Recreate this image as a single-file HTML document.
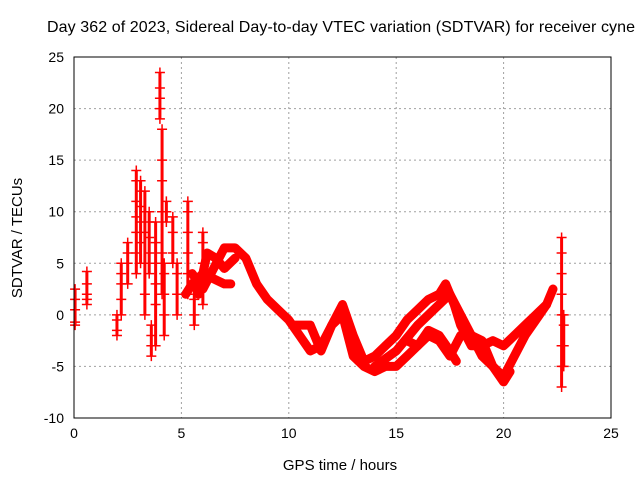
<!DOCTYPE html>
<html><head><meta charset="utf-8"><style>
body{margin:0;background:#fff}
svg{display:block;font-family:"Liberation Sans",sans-serif}
</style></head><body>
<svg id="c" width="640" height="480">
<text x="47" y="32" font-size="16" textLength="588">Day 362 of 2023, Sidereal Day-to-day VTEC variation (SDTVAR) for receiver cyne</text>
<text x="340" y="470" font-size="15" text-anchor="middle">GPS time / hours</text>
<text transform="translate(22,238) rotate(-90)" font-size="15" text-anchor="middle">SDTVAR / TECUs</text>
<g id="grid"></g><g id="marks"></g><g id="axes"></g>
</svg>
<script>
const xTicks=[0,5,10,15,20,25];
const yTicks=[-10,-5,0,5,10,15,20,25];
const trackA=[[5.5,4],[6,2.5],[6.5,4.5],[7,6.5],[7.5,6.5],[8,5.5],[8.5,3],[9,1.5],[9.5,0.5],[10,-0.5],[10.5,-2],[11,-3.5],[11.5,-3],[12,-1],[12.5,1],[13,-2],[13.5,-4.5],[14,-4],[14.5,-3],[15,-2],[15.5,-0.5],[16,0.5],[16.5,1.5],[17,2],[17.3,3],[17.7,1],[18,-1],[18.5,-3],[19,-3],[19.5,-2.5],[20,-3],[20.5,-2],[21,-1],[21.5,0],[22,1],[22.3,2.5]];
const trackB=[[10.3,-1],[11,-1],[11.5,-3.5],[12,-1],[12.5,0],[13,-4],[13.5,-5],[14,-5.5],[14.5,-5],[15,-5],[15.5,-4],[16,-3],[16.5,-2],[17,-2.5],[17.5,-4],[18,-2],[18.5,-2],[19,-2.5],[19.5,-5],[20,-6],[20.5,-4],[21,-2],[21.5,-0.5],[22,1]];
const trackC=[[14,-5],[15,-3.5],[16,-1],[17,1],[17.5,2],[18,0],[18.5,-2],[19,-4],[19.5,-5],[20,-6.5],[20.3,-5.5]];
const trackD=[[15.5,-2.5],[16,-3],[16.5,-1.5],[17,-2],[17.5,-3.5],[17.8,-4.5]];
const trackE=[[5.2,2],[5.5,3],[6,4],[6.5,3.5],[7,3],[7.3,3]];
const trackF=[[5.8,2],[6.2,6],[6.6,5.5],[7,4.5],[7.5,5.5]];
const clusterHours=[0.05,0.6,2.0,2.2,2.5,2.9,3.1,3.3,3.5,3.6,3.8,4.0,4.1,4.3,4.2,4.6,4.8,5.3,5.6,6.0,22.7,22.8];
const clusterValues=[[-1,-0.7,0.5,1.5,2.5],[1,1.5,2,3,4.2],[-2,-1.5,-0.5,0],[0,1.5,3,4,5],[3,5,6,7],[4,6,8,9.5,11,13,14],[5,7,9,10.5,12,13],[0,2,5,8,10,12],[4,6,7.5,9,10],[-4,-3,-2,-1],[-3,1,3,5,7,9],[19,20,21,22,23.5],[2,6,10,13,15,18],[9,10,11],[-2,0,2,4,5],[5,6,8,9.5],[0,2,4,5],[2,4,6,8,10,11],[-1,0,1.5,3],[1,3,5,7,8],[-7,-5,-3,0,2,4,6,7.5],[-5,-3,-1,0]];
const NS='http://www.w3.org/2000/svg';
const X0=74,X1=611,Y0=418,Y1=57;
const xs=h=>X0+h/25*(X1-X0);
const ys=v=>Y0-(v+10)/35*(Y0-Y1);
function mk(t,a,p){const e=document.createElementNS(NS,t);for(const k in a)e.setAttribute(k,a[k]);p.appendChild(e);return e;}
const grid=document.getElementById('grid'),axes=document.getElementById('axes'),marks=document.getElementById('marks');
xTicks.forEach(t=>{
 if(t>0&&t<25){const l=mk('line',{x1:xs(t),x2:xs(t),y1:Y1,y2:Y0,stroke:'#a0a0a0','stroke-dasharray':'2,3'},grid);
 
 }
 const tx=mk('text',{x:xs(t),y:Y0+20,'font-size':14,'text-anchor':'middle'},axes);tx.textContent=t;
 
 
});
yTicks.forEach(t=>{
 if(t>-10&&t<25){const l=mk('line',{x1:X0,x2:X1,y1:ys(t),y2:ys(t),stroke:'#a0a0a0','stroke-dasharray':'2,3'},grid);
 
 }
 const tx=mk('text',{x:X0-10,y:ys(t)+5,'font-size':14,'text-anchor':'end'},axes);tx.textContent=t;
 
 
});
const fr=mk('rect',{x:X0,y:Y1,width:X1-X0,height:Y0-Y1,fill:'none',stroke:'#000'},axes);


[trackA,trackB,trackC,trackD,trackE,trackF].forEach(tr=>{
 const p=mk('polyline',{points:tr.map(d=>xs(d[0])+','+ys(d[1])).join(' '),fill:'none',stroke:'#f00','stroke-width':9,'stroke-linejoin':'round','stroke-linecap':'round'},marks);
 
 
});
function plus(x,y){const g=mk('path',{d:`M${x-5},${y}h10M${x},${y-5}v10`,stroke:'#f00','stroke-width':1.5},marks);
 
 }
clusterHours.forEach((h,i)=>{
 const v=clusterValues[i];
 const l=mk('line',{x1:xs(h),x2:xs(h),y1:ys(Math.min(...v)),y2:ys(Math.max(...v)),stroke:'#f00','stroke-width':3},marks);
 
 
 v.forEach(val=>plus(xs(h),ys(val)));
});
</script>
</body></html>
